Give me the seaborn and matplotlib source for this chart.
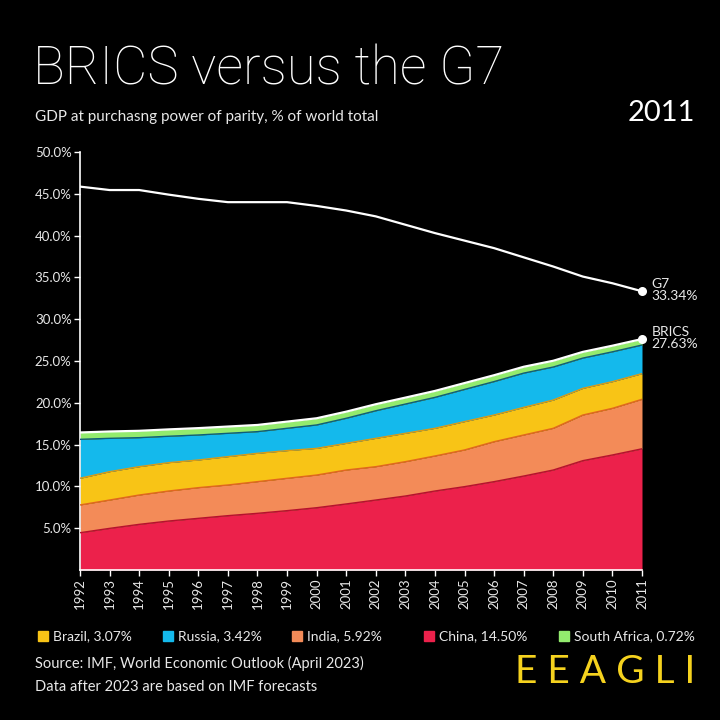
import numpy as np
import pandas as pd
import matplotlib
matplotlib.use("Agg")
import matplotlib.pyplot as plt
import matplotlib.patches as mpatches
import seaborn as sns

years = list(range(1992, 2012))
g7 = [45.86, 45.45, 45.45, 44.9, 44.4, 44.0, 44.0, 44.0, 43.55, 43.0,
      42.3, 41.3, 40.3, 39.4, 38.5, 37.4, 36.3, 35.1, 34.3, 33.34]
china = [4.46, 4.98, 5.46, 5.86, 6.18, 6.50, 6.78, 7.10, 7.45, 7.90,
         8.37, 8.85, 9.45, 9.97, 10.57, 11.24, 11.96, 13.08, 13.76, 14.50]
india = [3.32, 3.39, 3.51, 3.59, 3.67, 3.67, 3.79, 3.87, 3.91, 4.06,
         3.99, 4.11, 4.19, 4.39, 4.78, 4.91, 4.99, 5.46, 5.58, 5.92]
brazil = [3.19, 3.39, 3.39, 3.39, 3.31, 3.39, 3.39, 3.31, 3.19, 3.19,
          3.39, 3.39, 3.31, 3.39, 3.19, 3.30, 3.38, 3.19, 3.19, 3.07]
russia = [4.66, 3.99, 3.47, 3.16, 2.99, 2.79, 2.59, 2.67, 2.80, 3.00,
          3.30, 3.50, 3.70, 3.85, 4.00, 4.10, 3.95, 3.62, 3.57, 3.42]
south_africa = [0.82, 0.82, 0.82, 0.82, 0.82, 0.81, 0.80, 0.80, 0.80, 0.79,
                0.78, 0.77, 0.77, 0.76, 0.76, 0.76, 0.75, 0.74, 0.73, 0.72]
ytick_vals = [5, 10, 15, 20, 25, 30, 35, 40, 45, 50]
xtick_labels = [str(y) for y in years]

# stacking order bottom -> top
stack_names = ["China", "India", "Brazil", "Russia", "South Africa"]
stack_vals = [china, india, brazil, russia, south_africa]
fill_colors = {"China": "#EC214B", "India": "#F38B58", "Brazil": "#F8C416",
               "Russia": "#14B9EC", "South Africa": "#93EB6E"}
edge_colors = {"China": "#B8102E", "India": "#E2661F", "Brazil": "#E09A10",
               "Russia": "#0E5E7A", "South Africa": "#FFFFFF"}
legend_order = ["Brazil", "Russia", "India", "China", "South Africa"]
series_map = dict(zip(stack_names, stack_vals))

sns.set_theme(style="dark")
plt.rcParams["font.family"] = ["Lato", "DejaVu Sans"]
BG = "#000000"
FG = "#E8E8E8"

fig = plt.figure(figsize=(7.2, 7.2), dpi=100, facecolor=BG)
ax = fig.add_axes([80/720, 1-570/720, (642-80)/720, (570-152)/720])
ax.set_facecolor(BG)

x = np.array(years)
base = np.zeros(len(years))
for name, vals in zip(stack_names, stack_vals):
    top = base + np.array(vals)
    ax.fill_between(x, base, top, color=fill_colors[name], linewidth=0, zorder=2)
    if name != "South Africa":
        ax.plot(x, top, color=edge_colors[name], lw=1.0, zorder=3)
    base = top

df = pd.DataFrame({"year": years, "G7": g7, "BRICS": base})
sns.lineplot(data=df, x="year", y="BRICS", ax=ax, color="white", lw=1.6, zorder=4)
sns.lineplot(data=df, x="year", y="G7", ax=ax, color="white", lw=1.6, zorder=4)
ax.scatter([years[-1], years[-1]], [g7[-1], base[-1]], s=30, color="white",
           zorder=5, clip_on=False)

ax.text(years[-1] + 0.33, g7[-1] + 0.1, f"G7\n{g7[-1]:.2f}%", color=FG,
        fontsize=10, va="center", ha="left", linespacing=1.0, clip_on=False)
ax.text(years[-1] + 0.33, base[-1] + 0.1, f"BRICS\n{base[-1]:.2f}%", color=FG,
        fontsize=10, va="center", ha="left", linespacing=1.0, clip_on=False)

ax.set_xlim(years[0], years[-1])
ax.set_ylim(0, 50)
ax.set_xticks(years)
ax.set_xticklabels(xtick_labels, rotation=90, color=FG, fontsize=9.5)
ax.set_yticks(ytick_vals)
ax.set_yticklabels([f"{v:.1f}%" for v in ytick_vals], color=FG, fontsize=9.5)
ax.set_xlabel("")
ax.set_ylabel("")
ax.grid(False)
for s in ["top", "right"]:
    ax.spines[s].set_visible(False)
for s in ["left", "bottom"]:
    ax.spines[s].set_visible(True)
    ax.spines[s].set_color("white")
    ax.spines[s].set_linewidth(1.2)
ax.tick_params(axis="both", colors="white", length=4, width=1, direction="out",
               labelcolor=FG, pad=2)
ax.tick_params(axis="x", bottom=True)
ax.tick_params(axis="y", left=True)

# titles
fig.text(33/720, 1-70/720, "BRICS versus the G7", color="white", fontsize=38,
         family=["Roboto", "Lato", "DejaVu Sans"], fontweight="light",
         va="center", ha="left")
fig.text(35/720, 1-117/720, "GDP at purchasng power of parity, % of world total",
         color=FG, fontsize=11, va="center", ha="left")
fig.text(695/720, 1-113/720, "2011", color="white", fontsize=21,
         va="center", ha="right")

# legend
leg_x = [38, 163, 292, 424, 559]
ly = 1-636/720
for name, lx in zip(legend_order, leg_x):
    fig.patches.append(mpatches.Rectangle((lx/720, ly-5/720), 10/720, 10/720,
                                          transform=fig.transFigure,
                                          color=fill_colors[name]))
    fig.text((lx+15)/720, ly, f"{name}, {series_map[name][-1]:.2f}%",
             color=FG, fontsize=10, va="center", ha="left")

fig.text(35/720, 1-663/720, "Source: IMF, World Economic Outlook (April 2023)",
         color=FG, fontsize=10.5, va="center", ha="left")
fig.text(35/720, 1-687/720, "Data after 2023 are based on IMF forecasts",
         color=FG, fontsize=10.5, va="center", ha="left")
fig.text(695/720, 1-672/720, "E E A G L I", color="#F5D21E", fontsize=28,
         fontweight="normal", va="center", ha="right")

fig.savefig("out.png", dpi=100, facecolor=BG)
